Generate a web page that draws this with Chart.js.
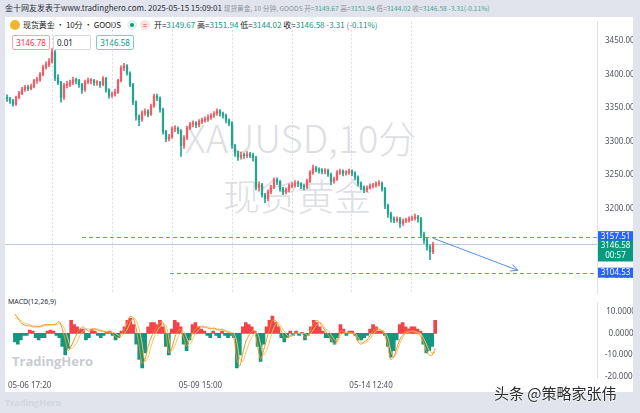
<!DOCTYPE html>
<html>
<head>
<meta charset="utf-8">
<script src="https://cdn.jsdelivr.net/npm/chart.js@4.4.1/dist/chart.umd.min.js"></script>
<style>
body{margin:0;width:640px;height:413px;background:#e1e4ec;position:relative;overflow:hidden;font-family:"Noto Sans CJK SC","Noto Sans",sans-serif}
.abs{position:absolute;white-space:nowrap;line-height:1}
#panel{left:5px;top:17px;width:628px;height:375px;background:#fff}
.v{color:#089981}
.box{position:absolute;height:13px;border-radius:2px;font-size:8px;line-height:13px;text-align:center;font-family:"Noto Sans",sans-serif}
.wm{color:#dedfe4;font-family:"Noto Sans CJK SC",sans-serif;font-weight:300}
.legend{display:flex;align-items:center}
.dot{width:10px;height:10px;border-radius:50%;display:inline-block}
canvas{position:absolute}
</style>
</head>
<body>
<div class="abs" id="panel"></div>

<div class="abs" style="left:5px;top:4px;font-size:8px;color:#2a2e39">金十网友发表于www.tradinghero.com. 2025-05-15 15:09:01 <span style="font-size:6.7px;color:#8c919c">现货黄金, 10 分钟, GOODS 开=<span style="color:#4aa596">3149.67</span> 高=<span style="color:#4aa596">3151.94</span> 低=<span style="color:#4aa596">3144.02</span> 收=<span style="color:#4aa596">3146.58</span> <span style="color:#4aa596">-3.31(-0.11%)</span></span></div>

<div class="abs legend" style="left:10px;top:19px;height:12px">
  <span class="dot" style="background:#f2b530;margin-right:3px"></span>
  <span style="font-size:8px;color:#131722;letter-spacing:-0.1px">现货黄金 · 10分 · GOODS</span>
  <span class="dot" style="background:#dff2ec;margin-left:6px;position:relative"><span style="position:absolute;left:3px;top:3px;width:4px;height:4px;border-radius:50%;background:#089981"></span></span>
  <span class="dot" style="background:#fbe3e5;color:#f23645;font-size:8px;text-align:center;line-height:10px;margin-left:3px">=</span>
  <span style="font-size:8px;color:#131722;margin-left:4px">开=<span class="v">3149.67</span> 高=<span class="v">3151.94</span> 低=<span class="v">3144.02</span> 收=<span class="v">3146.58</span> <span class="v">-3.31 (-0.11%)</span></span>
</div>

<div class="box" style="left:12px;top:35px;width:36px;border:1px solid #f4a5ab;color:#f23645">3146.78</div>
<div class="box" style="left:53px;top:35px;border:1px solid #d6d8de;color:#131722;text-align:left;padding-left:3px;width:33px">0.01</div>
<div class="box" style="left:96px;top:35px;width:36px;border:1px solid #7fcfc0;color:#089981">3146.58</div>

<div class="abs wm" style="left:185px;top:118px;font-size:38px">XAUUSD,10分</div>
<div class="abs wm" style="left:223px;top:177px;font-size:37px">现货黄金</div>

<div class="abs" style="left:8px;top:298px;font-size:7px;color:#2a2e39;font-family:'Noto Sans',sans-serif">MACD(12,26,9)</div>
<div class="abs" style="left:12px;top:355px;font-size:13px;font-weight:bold;color:#c9cbd1;font-family:'Open Sans',sans-serif">TradingHero</div>
<div class="abs" style="left:5px;top:398px;font-size:9px;font-weight:bold;color:#d3d6de;font-family:'Open Sans',sans-serif">TradingHero</div>

<canvas id="priceCanvas" width="628" height="281" style="left:5px;top:17px"></canvas>
<canvas id="macdCanvas" width="628" height="94" style="left:5px;top:298px"></canvas>

<div class="abs" style="left:494px;top:385px;font-size:15px;color:#2b2b2b;text-shadow:0 0 2px #fff,0 0 2px #fff">头条 @策略家张伟</div>

<script>
// tick labels and positions (bar index units)
const timeLabels = ['05-06 17:20', '05-09 15:00', '05-14 12:40'];
const timeTickAt = [5, 62.67, 120.33];
const gridTickAt = [15, 35, 55, 75, 95, 115, 135];
const priceTicks = [3100, 3150, 3200, 3250, 3300, 3350, 3400, 3450];
const macdTicks = [10, 0, -10, -20];

// price series (one bar ~ 3px of the original)
const firstOpen = 3366;
const closes = [
    3364, 3361, 3356, 3366, 3372, 3378, 3381, 3379, 3382, 3391,
    3392, 3400, 3411, 3415, 3420, 3434, 3395, 3388, 3366, 3384,
    3385, 3388, 3392, 3391, 3385, 3377, 3389, 3391, 3391, 3388,
    3388, 3385, 3394, 3377, 3369, 3371, 3374, 3391, 3410, 3413,
    3402, 3385, 3359, 3338, 3333, 3343, 3345, 3341, 3353, 3368,
    3365, 3348, 3315, 3304, 3307, 3319, 3320, 3316, 3294, 3306,
    3320, 3326, 3328, 3325, 3330, 3332, 3333, 3336, 3339, 3342,
    3346, 3342, 3339, 3332, 3328, 3294, 3283, 3277, 3280, 3279,
    3281, 3280, 3276, 3232, 3236, 3221, 3215, 3225, 3232, 3243,
    3240, 3230, 3225, 3228, 3234, 3235, 3238, 3237, 3234, 3232,
    3241, 3254, 3261, 3258, 3257, 3256, 3257, 3251, 3241, 3244,
    3254, 3256, 3253, 3254, 3256, 3253, 3247, 3238, 3232, 3228,
    3231, 3234, 3235, 3237, 3238, 3230, 3205, 3192, 3185, 3183,
    3185, 3178, 3182, 3183, 3185, 3186, 3188, 3185, 3162, 3153,
    3143, 3136, 3146.58
];
const highs = [
    3370, 3366, 3363, 3368, 3375, 3381, 3384, 3384, 3386, 3393,
    3396, 3403, 3414, 3419, 3424, 3439, 3436, 3400, 3390, 3387,
    3390, 3392, 3396, 3395, 3393, 3387, 3392, 3395, 3394, 3393,
    3391, 3390, 3397, 3396, 3379, 3374, 3378, 3393, 3413, 3417,
    3415, 3404, 3387, 3361, 3340, 3346, 3349, 3348, 3356, 3371,
    3371, 3367, 3350, 3317, 3311, 3322, 3324, 3322, 3318, 3309,
    3323, 3329, 3331, 3330, 3333, 3335, 3337, 3340, 3342, 3345,
    3349, 3348, 3344, 3341, 3334, 3330, 3296, 3286, 3284, 3283,
    3285, 3284, 3283, 3278, 3240, 3238, 3223, 3228, 3235, 3246,
    3246, 3242, 3232, 3231, 3237, 3239, 3242, 3241, 3239, 3236,
    3244, 3257, 3265, 3263, 3261, 3260, 3260, 3259, 3253, 3247,
    3257, 3259, 3258, 3257, 3259, 3258, 3255, 3249, 3240, 3234,
    3234, 3237, 3238, 3240, 3242, 3240, 3232, 3207, 3195, 3188,
    3188, 3187, 3185, 3186, 3188, 3189, 3192, 3190, 3187, 3165,
    3156, 3146, 3150
];
const lows = [
    3360, 3357, 3353, 3354, 3364, 3370, 3375, 3376, 3377, 3380,
    3387, 3390, 3398, 3408, 3412, 3417, 3391, 3385, 3359, 3363,
    3380, 3382, 3385, 3386, 3381, 3372, 3375, 3386, 3386, 3384,
    3384, 3381, 3383, 3374, 3365, 3366, 3368, 3372, 3389, 3406,
    3399, 3382, 3355, 3332, 3324, 3330, 3339, 3337, 3339, 3351,
    3361, 3344, 3311, 3300, 3301, 3305, 3315, 3312, 3278, 3290,
    3303, 3318, 3322, 3321, 3322, 3327, 3329, 3330, 3333, 3336,
    3339, 3338, 3335, 3328, 3324, 3290, 3278, 3272, 3274, 3275,
    3276, 3276, 3271, 3228, 3226, 3217, 3209, 3212, 3222, 3230,
    3236, 3226, 3221, 3222, 3225, 3231, 3232, 3233, 3230, 3228,
    3230, 3239, 3251, 3255, 3253, 3252, 3252, 3248, 3236, 3238,
    3242, 3251, 3249, 3250, 3251, 3249, 3243, 3234, 3228, 3224,
    3225, 3229, 3231, 3232, 3234, 3226, 3200, 3187, 3180, 3179,
    3180, 3172, 3175, 3179, 3180, 3182, 3183, 3180, 3158, 3148,
    3138, 3124, 3133
];

// MACD(12,26,9)
const hist = [
    -4, -5, -3, -1, -1, 1.5, 1, -2, -3, -2,
    -2, 1, 1.5, 1, -1, -2, -6, -10, -7, 6,
    4, 3, 2, 2, -3, -2, 2, 1, -1, -2,
    -1, 0.5, 1, -1, -3, -2, 1, 3, 6, 7,
    4, -5, -12, -16, -9, 3, 5, 5, 4, 6,
    3, -6, -10, 2, 6, 5, 3, -5, -8, -3,
    4, 5, 3, 2, 1, -1, -2, 1, -1, -2,
    1, -1, -2, -1, -2, -16, -10, 3, 5, 4,
    3, 1, -6, -13, -5, 3, 6, 8, 5, 3,
    -2, -4, -2, 1, -1, 1, -1, 0.5, -3, -1,
    3, 6, 5, 3, 1, -2, -2, -4, -5, -2,
    4, 2, -1, 1, 1, -1, -3, -3, -2, -1,
    2, 4, 3, 1, 1, -1, -6, -11, -8, -3,
    4, 5, 3, 2, 3, 3, 2, 1, -5, -9,
    -8, -6, 6
];
const macdLine = [
    9, 7, 5, 4, 3.5, 3.5, 3, 3, 3, 3.5,
    4, 4, 4, 4, 4.5, 5.5, 2, -3, -8, -6,
    -3, 0, 2, 3, 2, 1, 2, 2, 1.5, 1,
    1, 0.5, 1, 0, -1.5, -2, 0, 2, 5, 8,
    7, 2, -6, -14, -12, -6, -2, 1, 3, 5,
    5, 0, -9, -7, -2, 1, 2, -2, -6, -3,
    0, 2, 3, 3, 3, 2.5, 2, 2.5, 2, 1.5,
    2, 1, 0.5, 0, -2, -12, -15, -9, -4, -1,
    1, 1, -6, -12, -8, -3, 2, 6, 6, 4,
    1, -2, -2, -1, 0, 0, 0, 0, -2, -1,
    2, 5, 6, 5, 3, 1, -1, -3, -5, -3,
    1, 1, 0, 0.5, 0, -1, -4, -5, -4, -3,
    -1, 1, 2, 2, 1, -1, -6, -12, -11, -7,
    -3, -1, 1, 1, 1, 0.5, 0, -1, -4, -8,
    -10, -10, -7
];
const signalLine = [
    7, 7, 6, 5, 4.5, 4, 3.5, 3.5, 3, 3,
    3.5, 3.5, 4, 4, 4, 4.5, 4, 1, -3, -7,
    -6, -4, -1, 1, 2, 2, 1.5, 2, 2, 1.5,
    1, 1, 0.5, 0.5, 0, -1, -1.5, 0, 2, 5,
    7, 6, 2, -5, -13, -11, -6, -2, 1, 3,
    4, 4, -2, -8, -6, -2, 0, 1, -2, -5,
    -3, 0, 1.5, 2.5, 3, 3, 2.5, 2, 2, 2,
    1.5, 1.5, 1, 0.5, 0, -4, -12, -13, -9, -5,
    -2, 0, 0, -5, -10, -8, -4, 1, 4, 5,
    3, 1, -1, -1.5, -1, 0, 0, 0, 0, -1,
    0, 2, 4, 5, 4, 2, 1, -1, -3, -4,
    -1, 0, 0.5, 0, 0, 0, -2, -4, -4.5, -4,
    -2.5, -0.5, 1, 1.5, 1.5, 0.5, -2, -8, -11, -9,
    -5, -2, 0, 0.5, 1, 1, 0.5, 0, -2, -5,
    -8, -9, -9
];

// drawn levels and the projection arrow
const levelPrices = [3157.51, 3104.53];
const levelFrom = [25, 54.3];
const lastPrice = 3146.58;
const countdown = '00:57';
const arrowFrom = [142, 3156];
const arrowTo = [170.3, 3108];

const X_MIN = -0.67;
const X_MAX = 196.67;

Chart.defaults.font.family = '"Noto Sans", sans-serif';
Chart.defaults.color = '#50535e';

const upColor = '#f25c66';
const downColor = '#26a48f';
const blue = '#2962ff';

const opens = closes.map((c, i) => i === 0 ? firstOpen : closes[i - 1]);
const candleColors = closes.map((c, i) => c >= opens[i] ? upColor : downColor);

function tag(ctx, left, width, top, height, bg, lines) {
    ctx.fillStyle = bg;
    ctx.fillRect(left, top, width, height);
    ctx.fillStyle = '#fff';
    ctx.font = '8px "Noto Sans", sans-serif';
    ctx.textAlign = 'center';
    ctx.textBaseline = 'middle';
    lines.forEach((t, k) => ctx.fillText(t, left + width / 2, top + 5.5 + k * 10));
}

const overlayPlugin = {
    id: 'overlay',
    beforeDatasetsDraw(chart) {
        const { ctx, chartArea, scales: { x, y } } = chart;
        ctx.save();
        // last price line
        const py = Math.round(y.getPixelForValue(lastPrice)) + 0.5;
        ctx.strokeStyle = 'rgba(110,150,195,0.5)';
        ctx.lineWidth = 1;
        ctx.beginPath();
        ctx.moveTo(chartArea.left, py);
        ctx.lineTo(chartArea.right, py);
        ctx.stroke();
        // horizontal levels
        ctx.strokeStyle = '#6a8ff2';
        ctx.setLineDash([4, 3]);
        levelPrices.forEach((v, k) => {
            const ly = Math.round(y.getPixelForValue(v)) + 0.5;
            ctx.beginPath();
            ctx.moveTo(x.getPixelForValue(levelFrom[k]), ly);
            ctx.lineTo(chartArea.right, ly);
            ctx.stroke();
        });
        ctx.restore();
    },
    afterDatasetsDraw(chart) {
        const { ctx, scales: { x, y } } = chart;
        const x1 = x.getPixelForValue(arrowFrom[0]), y1 = y.getPixelForValue(arrowFrom[1]);
        const x2 = x.getPixelForValue(arrowTo[0]), y2 = y.getPixelForValue(arrowTo[1]);
        const a = Math.atan2(y2 - y1, x2 - x1);
        ctx.save();
        ctx.strokeStyle = '#5b8def';
        ctx.lineWidth = 1;
        ctx.beginPath();
        ctx.moveTo(x1, y1);
        ctx.lineTo(x2, y2);
        ctx.moveTo(x2 - 8 * Math.cos(a - 0.45), y2 - 8 * Math.sin(a - 0.45));
        ctx.lineTo(x2, y2);
        ctx.lineTo(x2 - 8 * Math.cos(a + 0.45), y2 - 8 * Math.sin(a + 0.45));
        ctx.stroke();
        ctx.restore();
    },
    afterDraw(chart) {
        const { ctx, chartArea, scales: { y } } = chart;
        const left = chartArea.right + 1;
        const w = chart.width - left;
        ctx.save();
        const p0 = y.getPixelForValue(levelPrices[0]);
        tag(ctx, left, w, p0 - 6, 10, blue, [levelPrices[0].toFixed(2)]);
        const pl = y.getPixelForValue(lastPrice);
        tag(ctx, left, w, pl - 4, 21, '#089981', [lastPrice.toFixed(2), countdown]);
        const p1 = y.getPixelForValue(levelPrices[1]);
        tag(ctx, left, w, p1 - 5, 10, blue, [levelPrices[1].toFixed(2)]);
        ctx.restore();
    }
};

const fixedTicks = (list) => (scale) => { scale.ticks = list.map(v => ({ value: v })); };

new Chart(document.getElementById('priceCanvas'), {
    type: 'bar',
    data: {
        datasets: [
            {
                data: closes.map((c, i) => ({ x: i, y: [lows[i], highs[i]] })),
                backgroundColor: candleColors,
                barThickness: 1,
                grouped: false,
                borderWidth: 0
            },
            {
                data: closes.map((c, i) => ({ x: i, y: [opens[i], c] })),
                backgroundColor: candleColors,
                barThickness: 1.6,
                grouped: false,
                borderWidth: 0,
                minBarLength: 1
            }
        ]
    },
    options: {
        responsive: false,
        animation: false,
        events: [],
        layout: { autoPadding: false, padding: 0 },
        plugins: { legend: { display: false }, tooltip: { enabled: false } },
        scales: {
            x: { type: 'linear', min: X_MIN, max: X_MAX, offset: false, display: false },
            xg: {
                type: 'linear', axis: 'x', position: 'bottom', min: X_MIN, max: X_MAX, offset: false,
                afterBuildTicks: fixedTicks(gridTickAt),
                afterFit: (s) => { s.height = 0; },
                ticks: { display: false },
                grid: { color: '#d9dce2', drawTicks: false, offset: false },
                border: { display: false, dash: [2, 2] }
            },
            y: {
                position: 'right',
                min: 3073.9,
                max: 3478.8,
                beginAtZero: false,
                afterBuildTicks: fixedTicks(priceTicks),
                afterFit: (s) => { s.width = 36; },
                ticks: { font: { size: 8 }, crossAlign: 'center', padding: 0, callback: (v) => v.toFixed(2) },
                grid: { display: false },
                border: { color: '#e0e3eb' }
            }
        }
    },
    plugins: [overlayPlugin]
});

new Chart(document.getElementById('macdCanvas'), {
    type: 'bar',
    data: {
        datasets: [
            {
                type: 'line',
                data: macdLine.map((v, i) => ({ x: i, y: v })),
                borderColor: '#f7931e',
                borderWidth: 1,
                pointRadius: 0,
                tension: 0.3
            },
            {
                type: 'line',
                data: signalLine.map((v, i) => ({ x: i, y: v })),
                borderColor: '#f9c46b',
                borderWidth: 1,
                pointRadius: 0,
                tension: 0.3
            },
            {
                data: hist.map((v, i) => ({ x: i, y: v })),
                backgroundColor: hist.map(v => v >= 0 ? '#f2434b' : '#13977f'),
                barThickness: 3,
                grouped: false,
                borderWidth: 0
            }
        ]
    },
    options: {
        responsive: false,
        animation: false,
        events: [],
        layout: { autoPadding: false, padding: 0 },
        plugins: { legend: { display: false }, tooltip: { enabled: false } },
        scales: {
            x: {
                type: 'linear', min: X_MIN, max: X_MAX, offset: false,
                afterBuildTicks: fixedTicks(timeTickAt),
                afterFit: (s) => { s.height = 14; },
                ticks: { font: { size: 8 }, maxRotation: 0, autoSkip: false, padding: 3, callback: (v, i) => timeLabels[i] },
                grid: { display: false, drawTicks: false, offset: false },
                border: { display: false }
            },
            y: {
                position: 'right',
                min: -20.65,
                max: 14.13,
                beginAtZero: false,
                afterBuildTicks: fixedTicks(macdTicks),
                afterFit: (s) => { s.width = 36; },
                ticks: { font: { size: 8 }, crossAlign: 'center', padding: 0, callback: (v) => v.toFixed(5) },
                grid: { display: false },
                border: { color: '#e0e3eb' }
            }
        }
    }
});
</script>
</body>
</html>
